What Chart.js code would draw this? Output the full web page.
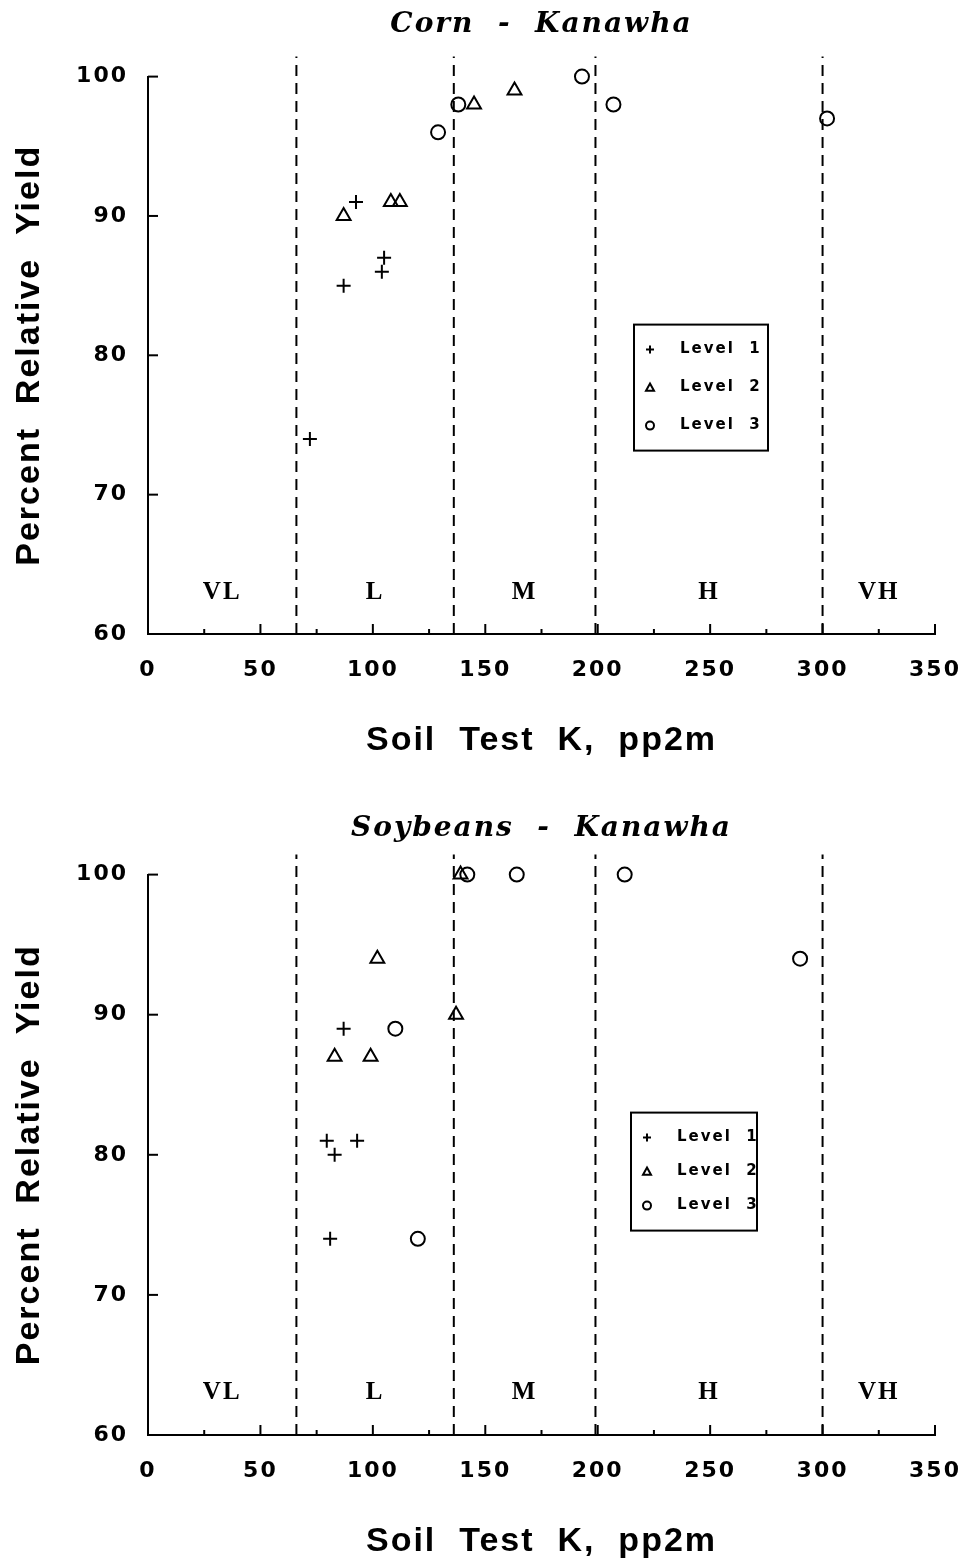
<!DOCTYPE html>
<html>
<head>
<meta charset="utf-8">
<script src="https://cdn.jsdelivr.net/npm/chart.js@4.4.1/dist/chart.umd.min.js"></script>
<style>
  body { margin: 0; background: #fff; }
  canvas { position: absolute; left: 0; }
</style>
</head>
<body>
<canvas id="cornChart" width="969" height="758" style="top:0"></canvas>
<canvas id="soyChart" width="969" height="761" style="top:798px"></canvas>
<script>
// axis ticks
const xTicks = [0, 50, 100, 150, 200, 250, 300, 350];
const yTicks = [60, 70, 80, 90, 100];

// soil test K class boundaries and names
const zoneBounds = [66, 136, 199, 300];
const zoneNames = ['VL', 'L', 'M', 'H', 'VH'];

const levelNames = ['Level 1', 'Level 2', 'Level 3'];

// Corn - Kanawha
const cornL1x = [72, 87, 92.5, 104, 105];
const cornL1y = [74, 85, 91, 86, 87];
const cornL2x = [87, 108, 112, 145, 163];
const cornL2y = [90, 91, 91, 98, 99];
const cornL3x = [129, 138, 193, 207, 302];
const cornL3y = [96, 98, 100, 98, 97];

// Soybeans - Kanawha
const soyL1x = [87, 79.5, 83, 93, 81];
const soyL1y = [89, 81, 80, 81, 74];
const soyL2x = [102, 83, 99, 137, 139];
const soyL2y = [94, 87, 87, 90, 100];
const soyL3x = [142, 164, 212, 290, 110, 120];
const soyL3y = [100, 100, 100, 94, 89, 74];

const styles = ['cross', 'triangle', 'circle'];
const radii = [7, 8, 7];

function toPoints(xs, ys) {
  return xs.map((x, i) => ({ x: x, y: ys[i] }));
}

function line(ctx, x1, y1, x2, y2) {
  ctx.beginPath();
  ctx.moveTo(x1, y1);
  ctx.lineTo(x2, y2);
  ctx.stroke();
}

function drawMarker(ctx, style, x, y, r) {
  ctx.beginPath();
  if (style === 'cross') {
    ctx.moveTo(x - r, y); ctx.lineTo(x + r, y);
    ctx.moveTo(x, y - r); ctx.lineTo(x, y + r);
  } else if (style === 'triangle') {
    ctx.moveTo(x, y - r);
    ctx.lineTo(x + r, y + r * 0.8);
    ctx.lineTo(x - r, y + r * 0.8);
    ctx.closePath();
  } else {
    ctx.arc(x, y, r, 0, Math.PI * 2);
  }
  ctx.stroke();
}

// letter spacing like the old plotter fonts
const spacingPlugin = {
  id: 'spacing',
  beforeUpdate(chart) { chart.ctx.letterSpacing = '2px'; },
  beforeDraw(chart) { chart.ctx.letterSpacing = '2px'; }
};

const extrasPlugin = {
  id: 'extras',
  beforeDatasetsDraw(chart) {
    const ctx = chart.ctx;
    const xs = chart.scales.x, ys = chart.scales.y;
    const area = chart.chartArea;
    ctx.save();
    // dashed class boundaries
    ctx.strokeStyle = '#000';
    ctx.lineWidth = 2;
    ctx.setLineDash([11, 7]);
    zoneBounds.forEach(b => {
      const px = xs.getPixelForValue(b);
      line(ctx, px, area.bottom, px, area.top - 20);
    });
    ctx.setLineDash([]);
    // class names
    const edges = [xs.min].concat(zoneBounds, [xs.max]);
    ctx.fillStyle = '#000';
    ctx.font = 'bold 25px "Liberation Serif"';
    ctx.textAlign = 'center';
    ctx.textBaseline = 'middle';
    zoneNames.forEach((n, i) => {
      const mid = (edges[i] + edges[i + 1]) / 2;
      ctx.fillText(n, xs.getPixelForValue(mid), ys.getPixelForValue(63));
    });
    // inward tick marks
    xs.ticks.forEach((t, i) => {
      const px = xs.getPixelForValue(t.value);
      if (t.value !== xs.min) line(ctx, px, area.bottom, px, area.bottom - 10);
      if (i > 0) {
        const m = xs.getPixelForValue((t.value + xs.ticks[i - 1].value) / 2);
        line(ctx, m, area.bottom, m, area.bottom - 5);
      }
    });
    ys.ticks.forEach(t => {
      if (t.value === ys.min) return;
      const py = ys.getPixelForValue(t.value);
      line(ctx, area.left, py, area.left + 10, py);
    });
    ctx.restore();
  },
  afterDraw(chart, args, opts) {
    const ctx = chart.ctx;
    const area = chart.chartArea;
    const bx = area.left + opts.left, by = area.top + opts.top;
    ctx.save();
    ctx.fillStyle = '#fff';
    ctx.fillRect(bx, by, opts.width, opts.height);
    ctx.strokeStyle = '#000';
    ctx.lineWidth = 2;
    ctx.strokeRect(bx, by, opts.width, opts.height);
    const step = (opts.height - 50) / 2;
    ctx.font = 'bold 15px "DejaVu Sans"';
    ctx.textAlign = 'left';
    ctx.textBaseline = 'middle';
    ctx.fillStyle = '#000';
    chart.data.datasets.forEach((ds, i) => {
      const y = by + 25 + i * step;
      drawMarker(ctx, ds.pointStyle, bx + 16, y, 4);
      ctx.fillText(ds.label.replace(' ', '  '), bx + 46, y);
    });
    ctx.restore();
  }
};

function makeChart(id, title, titlePad, xsArr, ysArr, legendBox) {
  const datasets = xsArr.map((xv, i) => ({
    label: levelNames[i],
    data: toPoints(xv, ysArr[i]),
    pointStyle: styles[i],
    pointRadius: radii[i],
    pointHoverRadius: radii[i],
    borderColor: '#000',
    backgroundColor: 'rgba(0,0,0,0)',
    pointBorderWidth: 2,
    showLine: false,
    clip: false
  }));

  const tickFont = { family: '"DejaVu Sans"', size: 22, weight: 'bold' };
  const titleFont = { family: '"Liberation Sans"', size: 34, weight: 'bold', lineHeight: 1 };

  return new Chart(document.getElementById(id), {
    type: 'scatter',
    data: { datasets: datasets },
    plugins: [spacingPlugin, extrasPlugin],
    options: {
      responsive: false,
      animation: false,
      layout: { padding: { top: 0, right: 34, left: 0, bottom: 0 } },
      plugins: {
        legend: { display: false },
        tooltip: { enabled: false },
        title: {
          display: true,
          text: title,
          fullSize: false,
          color: '#000',
          font: { family: '"DejaVu Serif"', size: 28, weight: 'bold', style: 'italic', lineHeight: 1.2 },
          padding: titlePad
        },
        extras: legendBox
      },
      scales: {
        x: {
          type: 'linear',
          min: xTicks[0],
          max: xTicks[xTicks.length - 1],
          afterFit(scale) {
            scale.height = 124;
            scale.paddingLeft = 0;
            scale.paddingRight = 0;
          },
          ticks: { stepSize: xTicks[1] - xTicks[0], color: '#000', font: tickFont, padding: 23, maxRotation: 0 },
          grid: { drawOnChartArea: false, drawTicks: false },
          border: { display: true, color: '#000', width: 2 },
          title: { display: true, text: 'Soil  Test  K,  pp2m', color: '#000', font: titleFont, padding: { top: 0, bottom: 0 } }
        },
        y: {
          min: yTicks[0],
          max: yTicks[yTicks.length - 1],
          afterFit(scale) {
            scale.width = 148;
            scale.paddingTop = 0;
            scale.paddingBottom = 0;
          },
          ticks: { stepSize: yTicks[1] - yTicks[0], color: '#000', font: tickFont, padding: 20 },
          grid: { drawOnChartArea: false, drawTicks: false },
          border: { display: true, color: '#000', width: 2 },
          title: { display: true, text: 'Percent  Relative  Yield', color: '#000', font: titleFont, padding: { top: 13, bottom: 0 } }
        }
      }
    }
  });
}

makeChart('cornChart', 'Corn  -  Kanawha', { top: 8, bottom: 35 },
  [cornL1x, cornL2x, cornL3x], [cornL1y, cornL2y, cornL3y],
  { left: 486, top: 248, width: 134, height: 126 });

makeChart('soyChart', 'Soybeans  -  Kanawha', { top: 14, bottom: 29 },
  [soyL1x, soyL2x, soyL3x], [soyL1y, soyL2y, soyL3y],
  { left: 483, top: 238, width: 126, height: 118 });
</script>
</body>
</html>
